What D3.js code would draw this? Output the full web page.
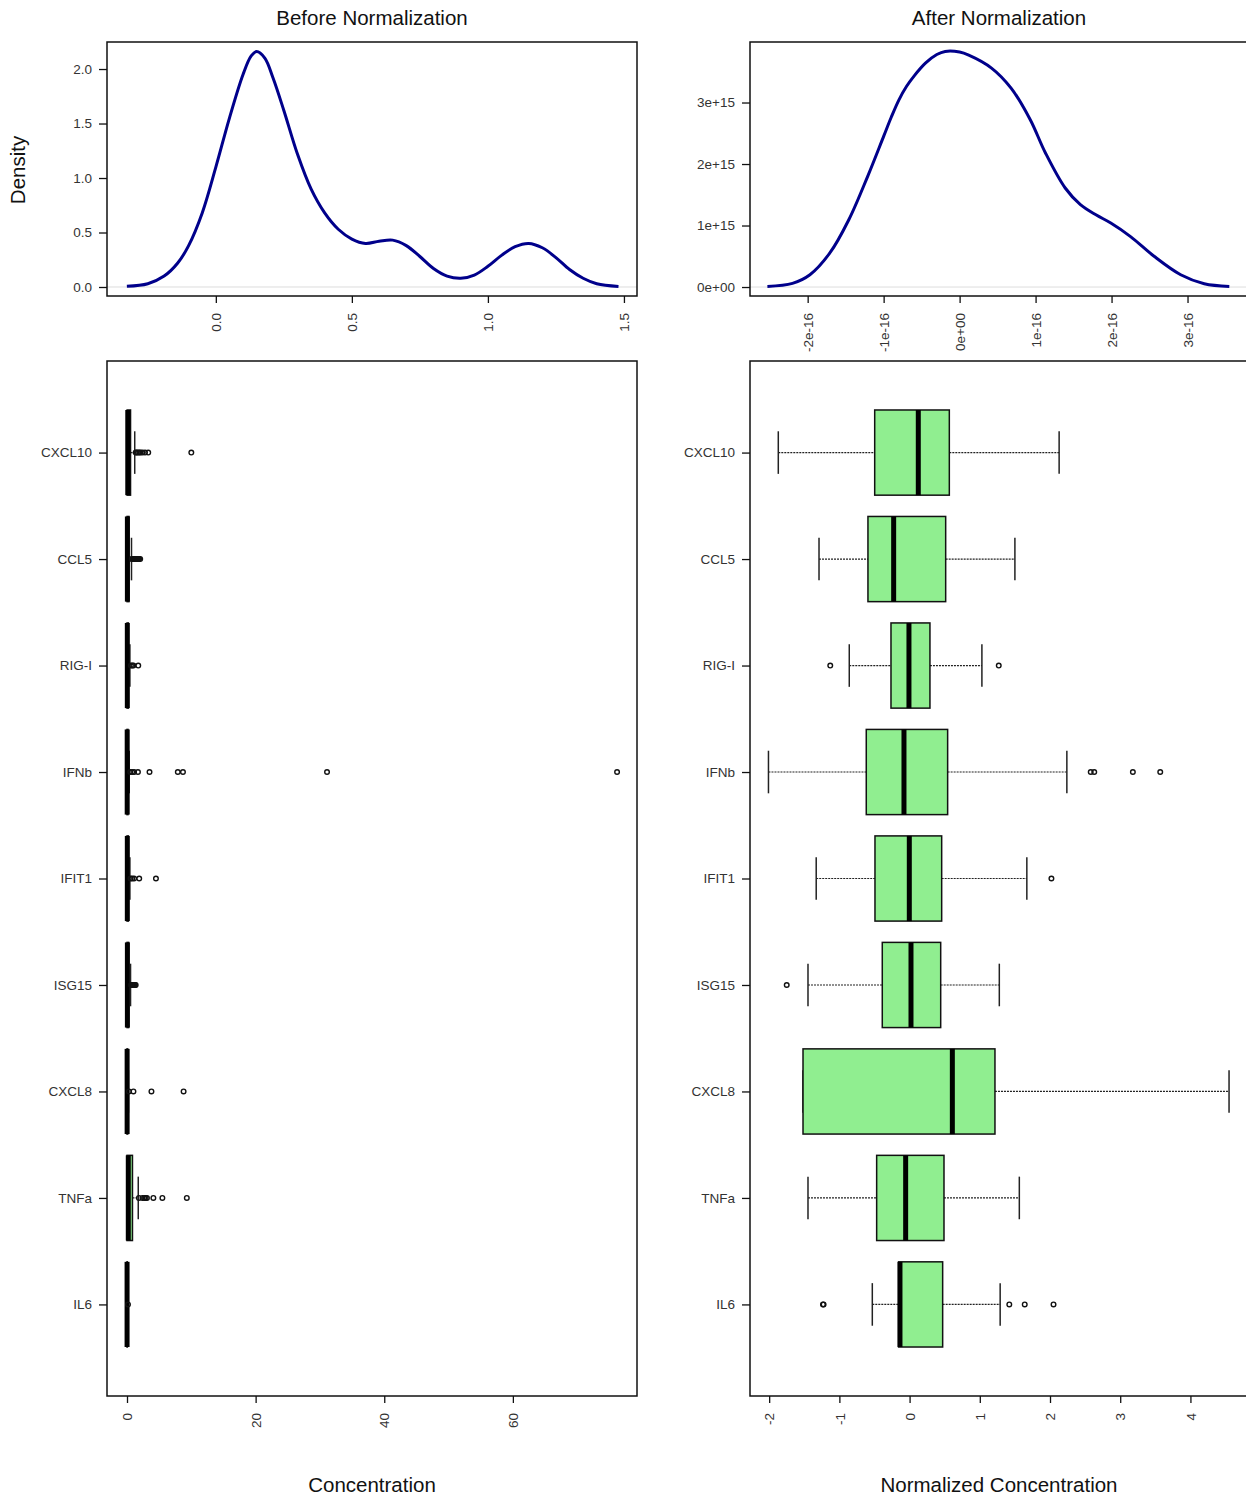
<!DOCTYPE html>
<html>
<head>
<meta charset="utf-8">
<script src="https://cdn.jsdelivr.net/npm/d3@7"></script>
<style>
  body { margin: 0; background: #fff; }
  svg text { font-family: "Liberation Sans", Arial, sans-serif; }
</style>
</head>
<body>
<script>
// density before normalization
var rawDensX = [-0.327, -0.25, -0.19, -0.14, -0.10, -0.05, 0.0, 0.05, 0.10, 0.13, 0.15, 0.18, 0.21, 0.25, 0.30, 0.35, 0.40, 0.45, 0.50, 0.55, 0.60, 0.65, 0.70, 0.75, 0.80, 0.85, 0.90, 0.95, 1.00, 1.05, 1.10, 1.15, 1.20, 1.25, 1.30, 1.35, 1.40, 1.48];
var rawDensY = [0.006, 0.03, 0.10, 0.22, 0.38, 0.68, 1.10, 1.55, 1.95, 2.12, 2.16, 2.10, 1.92, 1.62, 1.22, 0.90, 0.68, 0.53, 0.44, 0.40, 0.42, 0.43, 0.38, 0.28, 0.17, 0.10, 0.08, 0.11, 0.19, 0.29, 0.37, 0.40, 0.36, 0.27, 0.16, 0.08, 0.03, 0.005];

// density after normalization, x in 1e-16, y in 1e+15
var normDensX = [-2.53, -2.2, -1.97, -1.71, -1.46, -1.21, -1.00, -0.90, -0.80, -0.70, -0.60, -0.45, -0.30, -0.19, 0.0, 0.12, 0.42, 0.68, 0.93, 1.13, 1.39, 1.59, 1.80, 1.99, 2.25, 2.56, 2.91, 3.22, 3.55];
var normDensY = [0.01, 0.06, 0.20, 0.55, 1.09, 1.80, 2.45, 2.76, 3.04, 3.26, 3.43, 3.64, 3.78, 3.83, 3.82, 3.77, 3.56, 3.23, 2.72, 2.18, 1.61, 1.34, 1.17, 1.04, 0.82, 0.50, 0.20, 0.054, 0.01];

var rawDensTicks = [0, 0.5, 1.0, 1.5];
var rawDensTickLabels = ["0.0", "0.5", "1.0", "1.5"];
var rawDensYTicks = [0, 0.5, 1.0, 1.5, 2.0];
var rawDensYTickLabels = ["0.0", "0.5", "1.0", "1.5", "2.0"];
var normDensTicks = [-2, -1, 0, 1, 2, 3];
var normDensTickLabels = ["-2e-16", "-1e-16", "0e+00", "1e-16", "2e-16", "3e-16"];
var normDensYTicks = [0, 1, 2, 3];
var normDensYTickLabels = ["0e+00", "1e+15", "2e+15", "3e+15"];

// boxplots, bottom to top
var genes = ["IL6", "TNFa", "CXCL8", "ISG15", "IFIT1", "IFNb", "RIG-I", "CCL5", "CXCL10"];

var rawLow  = [0, 0, 0, 0, 0, 0, 0, 0, 0];
var rawQ1   = [0.0, 0.0, 0.0, 0.01, 0.01, 0.0, 0.01, 0.01, 0.02];
var rawMed  = [0.01, 0.2, 0.02, 0.06, 0.05, 0.03, 0.05, 0.06, 0.12];
var rawQ3   = [0.05, 0.85, 0.1, 0.25, 0.2, 0.15, 0.2, 0.3, 0.55];
var rawHigh = [0.1, 1.75, 0.22, 0.55, 0.45, 0.35, 0.45, 0.7, 1.2];
var rawOut  = [
  [0.15],
  [1.85, 2.4, 2.7, 2.9, 3.1, 4.1, 5.5, 9.3],
  [0.3, 1.0, 3.8, 8.8],
  [0.65, 0.75, 0.85, 0.95, 1.05, 1.15, 1.25, 1.35],
  [0.55, 0.8, 1.1, 1.9, 4.5],
  [0.5, 0.8, 1.1, 1.7, 3.5, 7.9, 8.7, 31.1, 76.2],
  [0.6, 0.8, 1.0, 1.75],
  [0.75, 0.85, 0.98, 1.1, 1.22, 1.35, 1.48, 1.6, 1.74, 1.88, 2.05],
  [1.35, 1.5, 1.7, 1.9, 2.1, 2.4, 2.8, 3.3, 10.0]
];
var rawTicks = [0, 20, 40, 60];

var normLow  = [-0.531, -1.447, -1.518, -1.447, -1.33, -2.01, -0.859, -1.29, -1.87];
var normQ1   = [-0.156, -0.469, -1.518, -0.389, -0.493, -0.617, -0.265, -0.593, -0.497];
var normMed  = [-0.137, -0.056, 0.609, 0.02, -0.004, -0.08, -0.009, -0.227, 0.124];
var normQ3   = [0.471, 0.49, 1.216, 0.443, 0.457, 0.542, 0.29, 0.514, 0.566];
var normHigh = [1.29, 1.563, 4.55, 1.278, 1.67, 2.24, 1.03, 1.50, 2.13];
var normOut  = [
  [-1.234, -1.225, 1.42, 1.64, 2.05],
  [],
  [],
  [-1.75],
  [2.02],
  [2.58, 2.63, 3.18, 3.57],
  [-1.13, 1.27],
  [],
  []
];
var normTicks = [-2, -1, 0, 1, 2, 3, 4];

var width = 1246, height = 1497;
var svg = d3.select("body").append("svg").attr("width", width).attr("height", height)
  .style("background", "#fff");

var panTop = {y0: 42, y1: 296};
var panBot = {y0: 361, y1: 1396};
var panLeft = {x0: 107, x1: 637};
var panRight = {x0: 750, x1: 1248};

function frame(px, py) {
  svg.append("rect")
    .attr("x", px.x0).attr("y", py.y0)
    .attr("width", px.x1 - px.x0).attr("height", py.y1 - py.y0)
    .attr("fill", "none").attr("stroke", "#111").attr("stroke-width", 1.5);
}

function styleAxis(g) {
  g.select(".domain").remove();
  g.selectAll(".tick line").attr("stroke", "#111").attr("stroke-width", 1.3);
  g.selectAll(".tick text").attr("fill", "#333").style("font-size", "13.5px");
}

function bottomAxis(x, ypos, ticks, labels) {
  var ax = d3.axisBottom(x).tickValues(ticks).tickSize(7)
    .tickFormat(function (d, i) { return labels ? labels[i] : d; });
  var g = svg.append("g").attr("transform", "translate(0," + ypos + ")").call(ax);
  styleAxis(g);
  g.selectAll(".tick text")
    .attr("transform", "rotate(-90)")
    .attr("x", -17).attr("y", 0).attr("dy", "0.35em")
    .attr("text-anchor", "end");
}

function leftAxis(y, xpos, ticks, labels) {
  var ax = d3.axisLeft(y).tickValues(ticks).tickSize(8).tickPadding(7)
    .tickFormat(function (d, i) { return labels[i]; });
  var g = svg.append("g").attr("transform", "translate(" + xpos + ",0)").call(ax);
  styleAxis(g);
}

function density(xs, ys, xDom, yDom, px, ticks, tickLabels, yTicks, yTickLabels) {
  var x = d3.scaleLinear().domain(xDom).range([px.x0, px.x1]);
  var y = d3.scaleLinear().domain(yDom).range([panTop.y1, panTop.y0]);
  svg.append("line")
    .attr("x1", px.x0).attr("x2", px.x1)
    .attr("y1", y(0)).attr("y2", y(0))
    .attr("stroke", "#ddd").attr("stroke-width", 1);
  var line = d3.line()
    .x(function (d) { return x(xs[d]); })
    .y(function (d) { return y(ys[d]); })
    .curve(d3.curveCatmullRom.alpha(0.5));
  svg.append("path")
    .attr("d", line(d3.range(xs.length)))
    .attr("fill", "none").attr("stroke", "#00008b").attr("stroke-width", 3);
  frame(px, panTop);
  bottomAxis(x, panTop.y1, ticks, tickLabels);
  leftAxis(y, px.x0, yTicks, yTickLabels);
}

density(rawDensX, rawDensY, [-0.4, 1.548], [-0.0826, 2.248], panLeft,
  rawDensTicks, rawDensTickLabels, rawDensYTicks, rawDensYTickLabels);
density(normDensX, normDensY, [-2.759, 3.796], [-0.146, 3.984], panRight,
  normDensTicks, normDensTickLabels, normDensYTicks, normDensYTickLabels);

var yPos = d3.scaleLinear().domain([0.14, 9.86]).range([panBot.y1, panBot.y0]);

function boxes(x, lo, q1, med, q3, hi, outs) {
  var g = svg.append("g");
  genes.forEach(function (name, i) {
    var p = i + 1;
    var yc = yPos(p), hb = yPos(p - 0.4) - yc, hs = yPos(p - 0.2) - yc;
    // whiskers
    [[lo[i], q1[i]], [q3[i], hi[i]]].forEach(function (w) {
      g.append("line")
        .attr("x1", x(w[0])).attr("x2", x(w[1]))
        .attr("y1", yc).attr("y2", yc)
        .attr("stroke", "#222").attr("stroke-width", 1.2)
        .attr("stroke-dasharray", "2,1");
    });
    [lo[i], hi[i]].forEach(function (v) {
      g.append("line")
        .attr("x1", x(v)).attr("x2", x(v))
        .attr("y1", yc - hs).attr("y2", yc + hs)
        .attr("stroke", "#222").attr("stroke-width", 1.5);
    });
    g.append("rect")
      .attr("x", x(q1[i])).attr("y", yc - hb)
      .attr("width", Math.max(0, x(q3[i]) - x(q1[i]))).attr("height", 2 * hb)
      .attr("fill", "#90ee90").attr("stroke", "#111").attr("stroke-width", 1.5);
    g.append("line")
      .attr("x1", x(med[i])).attr("x2", x(med[i]))
      .attr("y1", yc - hb).attr("y2", yc + hb)
      .attr("stroke", "#000").attr("stroke-width", 5);
    outs[i].forEach(function (v) {
      g.append("circle")
        .attr("cx", x(v)).attr("cy", yc).attr("r", 2.3)
        .attr("fill", "none").attr("stroke", "#111").attr("stroke-width", 1.4);
    });
  });
}

var xRaw = d3.scaleLinear().domain([-3.11, 79.3]).range([panLeft.x0, panLeft.x1]);
var xNorm = d3.scaleLinear().domain([-2.273, 4.82]).range([panRight.x0, panRight.x1]);

boxes(xRaw, rawLow, rawQ1, rawMed, rawQ3, rawHigh, rawOut);
boxes(xNorm, normLow, normQ1, normMed, normQ3, normHigh, normOut);

frame(panLeft, panBot);
frame(panRight, panBot);
bottomAxis(xRaw, panBot.y1, rawTicks, null);
bottomAxis(xNorm, panBot.y1, normTicks, null);
var pos = genes.map(function (d, i) { return i + 1; });
leftAxis(yPos, panLeft.x0, pos, genes);
leftAxis(yPos, panRight.x0, pos, genes);

// titles
function label(txt, x, y, rot) {
  svg.append("text")
    .attr("transform", "translate(" + x + "," + y + ")" + (rot ? " rotate(-90)" : ""))
    .attr("text-anchor", "middle").attr("dy", "0.35em")
    .style("font-size", "20.5px").attr("fill", "#111")
    .text(txt);
}
label("Before Normalization", 372, 18);
label("After Normalization", 999, 18);
label("Density", 18, 170, true);
label("Concentration", 372, 1485);
label("Normalized Concentration", 999, 1485);
</script>
</body>
</html>
